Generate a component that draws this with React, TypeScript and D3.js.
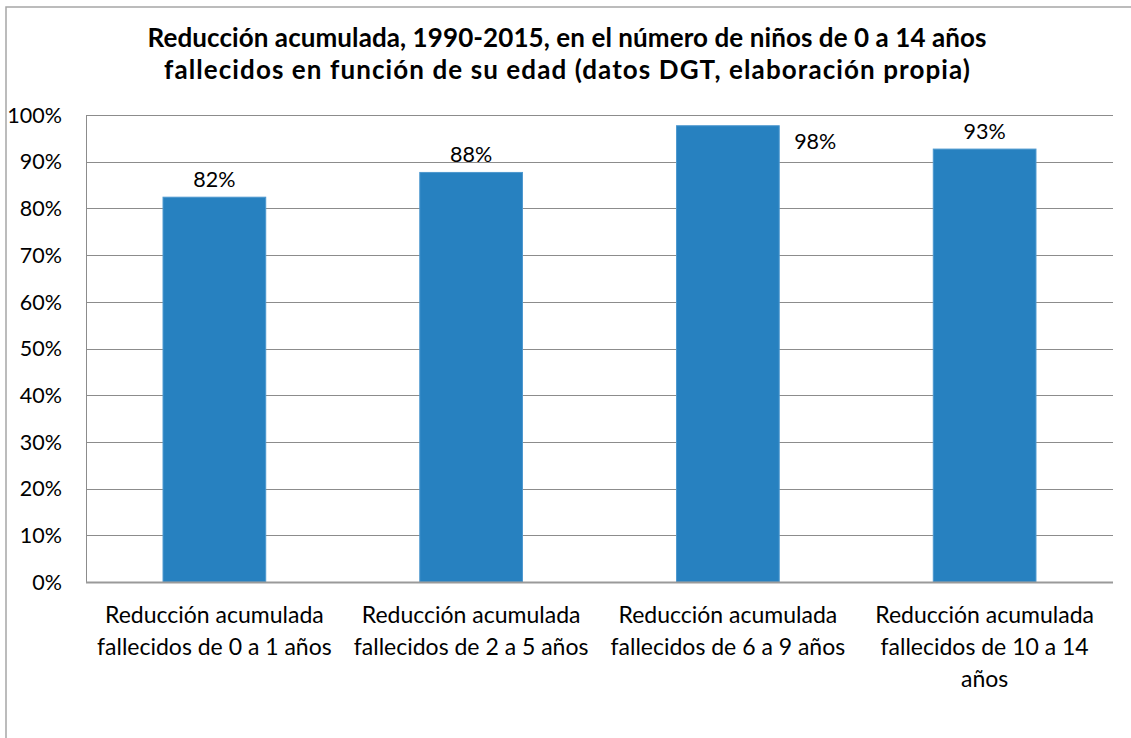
import React from "react";
import * as d3 from "d3";

const titleLines = [
  "Reducción acumulada, 1990-2015, en el número de niños de 0 a 14 años",
  "fallecidos en función de su edad (datos DGT, elaboración propia)",
];
const categories = [
  "Reducción acumulada\nfallecidos de 0 a 1 años",
  "Reducción acumulada\nfallecidos de 2 a 5 años",
  "Reducción acumulada\nfallecidos de 6 a 9 años",
  "Reducción acumulada\nfallecidos de 10 a 14\naños",
];
const values = [0.824, 0.877, 0.977, 0.927];
const valueLabels = ["82%", "88%", "98%", "93%"];
const yTicks = [0, 0.1, 0.2, 0.3, 0.4, 0.5, 0.6, 0.7, 0.8, 0.9, 1.0];

const W = 1131;
const H = 738;
const plot = { left: 86, right: 1113, top: 115, bottom: 582 };
const FONT = "Lato, 'Open Sans', sans-serif";
const BAR = "#2781C0";
const titleWidths = [839, 806];

export default function App() {
  const x = d3
    .scaleBand<string>()
    .domain(categories)
    .range([plot.left, plot.right])
    .paddingInner(0)
    .paddingOuter(0);
  const y = d3.scaleLinear().domain([0, 1]).range([plot.bottom, plot.top]);
  const bw = x.bandwidth() * 0.4;
  const fmt = d3.format(".0%");

  return (
    <div style={{ position: "absolute", left: 0, top: 0, width: W, height: H, background: "#fff" }}>
      <svg width={W} height={H} style={{ display: "block" }} fontFamily={FONT}>
        <rect x={0} y={0} width={W} height={H} fill="#fff" />
        {/* chart border */}
        <rect x={6} y={7} width={W + 10} height={H + 10} fill="none" stroke="#a6a6a6" strokeWidth={1.5} />
        {/* title */}
        {titleLines.map((t, i) => (
          <text
            key={i}
            x={567 - titleWidths[i] / 2}
            y={47 + i * 32}
            textAnchor="start"
            fontSize={26}
            fontWeight={700}
            fill="#000"
            textLength={titleWidths[i]}
            lengthAdjust="spacing"
          >
            {t}
          </text>
        ))}
        {/* gridlines */}
        {yTicks.map((t) => (
          <line
            key={t}
            x1={plot.left}
            x2={plot.right}
            y1={Math.round(y(t)) + 0.5}
            y2={Math.round(y(t)) + 0.5}
            stroke="#8c8c8c"
            strokeWidth={1}
          />
        ))}
        {/* y tick labels */}
        {yTicks.map((t) => (
          <text
            key={"l" + t}
            x={62}
            y={y(t)}
            dy="0.36em"
            textAnchor="end"
            fontSize={21.5}
            fill="#000"
          >
            {fmt(t)}
          </text>
        ))}
        {/* bars */}
        {categories.map((c, i) => {
          const bx = (x(c) as number) + (x.bandwidth() - bw) / 2;
          const top = y(values[i]);
          return (
            <rect
              key={c}
              x={bx}
              y={top}
              width={bw}
              height={y(0) - top}
              fill={BAR}
              stroke="#4d98cf"
              strokeWidth={1}
            />
          );
        })}
        {/* axes lines */}
        <line x1={plot.left + 0.5} x2={plot.left + 0.5} y1={plot.top} y2={plot.bottom} stroke="#8c8c8c" strokeWidth={1} />
        <line x1={plot.left} x2={plot.right} y1={plot.bottom + 0.5} y2={plot.bottom + 0.5} stroke="#9a9a9a" strokeWidth={2} />
        {/* value labels */}
        {categories.map((c, i) => {
          const cx = (x(c) as number) + x.bandwidth() / 2;
          const top = y(values[i]);
          const fits = top - 30 >= plot.top;
          const lx = fits ? cx : cx + bw / 2 + 36;
          const ly = fits ? top - 10 : top + 23;
          return (
            <text key={"v" + c} x={lx} y={ly} textAnchor="middle" fontSize={21.5} fill="#000">
              {valueLabels[i]}
            </text>
          );
        })}
        {/* category labels */}
        {categories.map((c) => {
          const cx = (x(c) as number) + x.bandwidth() / 2;
          return (
            <text key={"c" + c} textAnchor="middle" fontSize={23} fill="#000">
              {c.split("\n").map((ln, j) => (
                <tspan key={j} x={cx} y={623 + j * 32}>
                  {ln}
                </tspan>
              ))}
            </text>
          );
        })}
      </svg>
    </div>
  );
}
